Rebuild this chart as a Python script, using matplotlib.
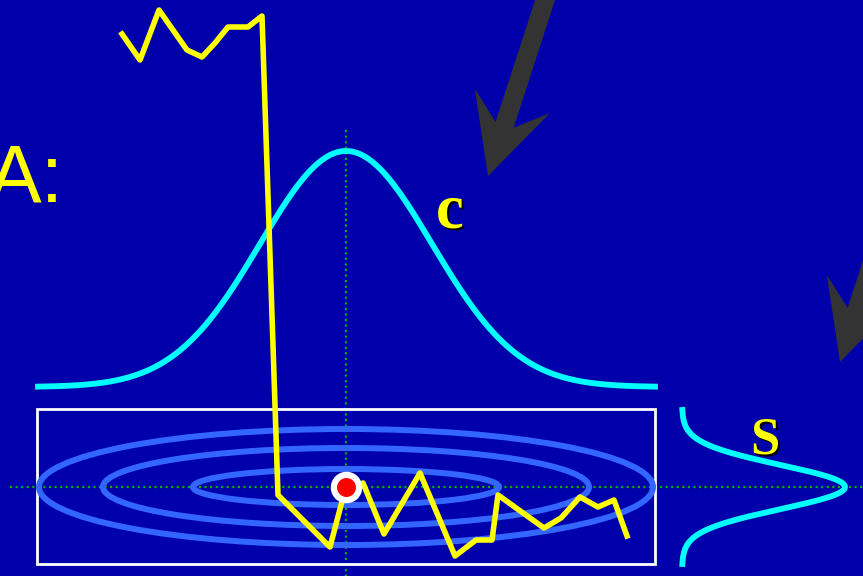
import matplotlib.pyplot as plt
import numpy as np
from matplotlib.patches import Ellipse, Rectangle, FancyArrow

# --------------------------------------
# data (pixel units, y downwards)

trace_x = [122, 140, 159, 187, 202, 215, 228, 248, 262, 278, 330, 345, 363, 384,
           420, 455, 476, 492, 498, 544, 561, 580, 598, 614, 627]
trace_y = [34, 60, 10, 50, 57, 43, 27, 27, 16, 495, 547, 490, 483, 534,
           473, 556, 540, 540, 495, 528, 518, 497, 507, 500, 536]

centre = (346, 487)
ellipse_widths = [614, 486, 306]
ellipse_heights = [116, 78, 36]

bell_left, bell_right = 38, 655
bell_base, bell_height, bell_sigma = 387, 236, 86

side_top, side_bottom = 410, 564
side_base, side_height, side_sigma = 682, 163, 22

arrow_tips = [(488, 176), (840, 362)]

# --------------------------------------

BG = "#0000aa"
fig = plt.figure(figsize=(8.63, 5.76), dpi=100, facecolor=BG)
ax = fig.add_axes([0, 0, 1, 1])
ax.set_facecolor(BG)
ax.set_xlim(0, 863)
ax.set_ylim(576, 0)
ax.axis("off")

# dotted green guide lines
ax.plot([10, 863], [centre[1], centre[1]], ls=(0, (1, 1.5)), color="#00b000", lw=1.6, zorder=1)
ax.plot([centre[0], centre[0]], [130, 576], ls=(0, (1, 1.5)), color="#00b000", lw=1.6, zorder=1)

# white box
ax.add_patch(Rectangle((37, 409), 618, 155, fill=False, ec="white", lw=2, zorder=2))

# contour ellipses
for w, h in zip(ellipse_widths, ellipse_heights):
    ax.add_patch(Ellipse(centre, w, h, fill=False, ec="#3366ff", lw=4.3, zorder=3))

# bell curve on top
bx = np.linspace(bell_left, bell_right, 300)
by = bell_base - bell_height * np.exp(-(bx - centre[0]) ** 2 / (2 * bell_sigma ** 2))
ax.plot(bx, by, color="#00ffff", lw=4.2, zorder=4)

# sideways bell curve
sy = np.linspace(side_top, side_bottom, 300)
sx = side_base + side_height * np.exp(-(sy - centre[1]) ** 2 / (2 * side_sigma ** 2))
ax.plot(sx, sy, color="#00ffff", lw=4.2, zorder=4)

# yellow trace
ax.plot(trace_x, trace_y, color="#ffff00", lw=4.0, zorder=5)

# red dot with white ring
ax.scatter([centre[0]], [centre[1]], s=330, color="red", ec="white", lw=4.5, zorder=6)

# big grey arrows
for tx, ty in arrow_tips:
    dx, dy = -60, 185
    ax.add_patch(FancyArrow(tx - dx * 1.6, ty - dy * 1.6, dx * 1.6, dy * 1.6,
                            width=19, head_width=79, head_length=79, overhang=0.32,
                            length_includes_head=True, color="#333333", lw=0, zorder=7))

# labels
ax.text(-12, 202, "A:", color="#ffff00", fontsize=58, family="Liberation Sans", zorder=8)
for lx, ly, s, size in [(436, 227, "c", 45), (750, 453, "S", 38)]:
    ax.text(lx + 2, ly + 2, s, color="black", fontsize=size, family="Liberation Serif",
            weight="bold", zorder=8)
    ax.text(lx, ly, s, color="#ffff00", fontsize=size, family="Liberation Serif",
            weight="bold", zorder=9)

fig.savefig("out.png", dpi=100, facecolor=BG)
